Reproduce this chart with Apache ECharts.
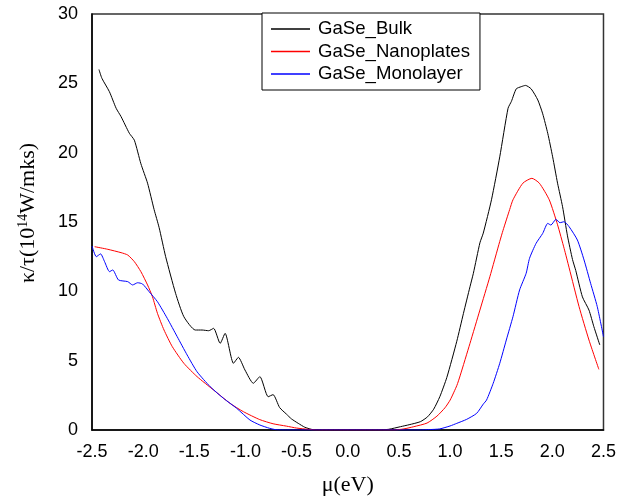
<!DOCTYPE html>
<html>
<head>
<meta charset="utf-8">
<script src="https://cdn.jsdelivr.net/npm/echarts@6/dist/echarts.min.js"></script>
<style>html,body{margin:0;padding:0;background:#fff}#c{width:619px;height:501px}</style>
</head>
<body>
<div id="c"></div>
<script>
var seriesNames = ['GaSe_Bulk', 'GaSe_Nanoplates', 'GaSe_Monolayer'];
var seriesColors = ['#000000', '#ff0000', '#0000ff'];
var xTicks = [-2.5, -2.0, -1.5, -1.0, -0.5, 0.0, 0.5, 1.0, 1.5, 2.0, 2.5];
var yTicks = [0, 5, 10, 15, 20, 25, 30];

var bulkX = [-2.432,-2.403,-2.33,-2.264,-2.216,-2.135,-2.086,-2.022,-1.957,-1.893,-1.844,-1.78,-1.683,-1.602,-1.49,-1.424,-1.36,-1.311,-1.247,-1.199,-1.117,-1.069,-1.005,-0.923,-0.859,-0.778,-0.73,-0.666,-0.6,-0.55,-0.484,-0.42,-0.356,-0.3,0.3,0.4,0.516,0.6,0.71,0.78,0.84,0.9,0.969,1.066,1.131,1.195,1.228,1.292,1.325,1.405,1.486,1.567,1.6,1.647,1.696,1.738,1.793,1.858,1.906,1.955,2.003,2.051,2.1,2.148,2.197,2.229,2.294,2.358,2.406,2.464];
var bulkY = [26.0,25.36,24.4,23.2,22.6,21.4,20.9,19.2,17.8,15.9,14.6,12.5,9.86,8.17,7.21,7.21,7.16,7.33,6.25,6.97,4.81,5.24,4.33,3.37,3.85,2.4,2.55,1.62,1.15,0.8,0.48,0.2,0.05,0.0,0.0,0.05,0.24,0.38,0.6,0.95,1.5,2.4,3.8,6.4,8.41,10.33,11.3,13.5,14.2,16.6,19.7,23.2,23.7,24.6,24.76,24.85,24.6,23.8,22.8,21.4,19.7,17.8,16.1,14.0,12.3,11.5,9.6,8.65,7.45,6.13];

var nanoX = [-2.474,-2.345,-2.216,-2.151,-2.086,-2.022,-1.957,-1.909,-1.86,-1.796,-1.715,-1.602,-1.473,-1.311,-1.15,-1.02,-0.86,-0.73,-0.6,-0.5,-0.388,-0.3,0.45,0.55,0.646,0.775,0.872,0.95,1.001,1.066,1.098,1.195,1.292,1.389,1.486,1.518,1.583,1.615,1.712,1.8,1.873,1.97,2.051,2.115,2.164,2.261,2.358,2.455];
var nanoY = [13.22,13.03,12.79,12.62,12.14,11.42,10.46,9.61,8.41,7.21,6.01,4.81,3.85,2.88,1.92,1.32,0.75,0.45,0.28,0.14,0.05,0.0,0.0,0.08,0.24,0.5,1.0,1.6,2.16,3.2,3.9,6.25,8.65,11.05,13.6,14.4,15.9,16.6,17.8,18.15,17.8,16.6,14.8,13.1,11.7,8.9,6.49,4.37];

var monoX = [-2.5,-2.458,-2.416,-2.377,-2.329,-2.297,-2.241,-2.151,-2.103,-2.054,-2.006,-1.941,-1.86,-1.764,-1.667,-1.57,-1.473,-1.344,-1.214,-1.085,-0.956,-0.859,-0.763,-0.7,-0.6,0.7,0.8,0.9,1.0,1.066,1.163,1.26,1.325,1.357,1.422,1.486,1.55,1.615,1.68,1.744,1.777,1.841,1.906,1.955,1.986,2.035,2.074,2.115,2.164,2.245,2.31,2.374,2.439,2.5];
var monoY = [13.27,12.5,12.7,12.14,11.42,11.54,10.82,10.7,10.46,10.62,10.53,9.97,9.25,8.05,6.73,5.41,4.2,3.12,2.28,1.56,0.72,0.36,0.12,0.02,0.0,0.0,0.03,0.08,0.29,0.48,0.77,1.2,1.87,2.16,3.37,4.81,6.49,8.17,10.1,11.3,12.38,13.46,14.18,14.9,14.78,15.19,14.95,15.02,14.66,13.7,12.26,10.58,8.9,6.73];

function pairs(xs, ys) { return xs.map(function (x, i) { return [x, ys[i]]; }); }

var chart = echarts.init(document.getElementById('c'), null, {renderer: 'canvas'});
var sansFont = '"Liberation Sans", Arial, sans-serif';
var serifFont = '"Liberation Serif", "Times New Roman", serif';
function mkSeries(name, xs, ys, color) {
  return {
    name: name, type: 'line', data: pairs(xs, ys), symbol: 'none', showSymbol: false,
    smooth: 0.2, color: color, lineStyle: {color: color, width: 1}, itemStyle: {color: color},
    animation: false
  };
}
chart.setOption({
  animation: false,
  grid: {left: 92, right: 11, top: 14, bottom: 71, show: true, borderColor: '#333', borderWidth: 1.5, backgroundColor: 'transparent'},
  legend: {
    left: 262, top: 13, orient: 'vertical',
    data: seriesNames.map(function (n, i) { return {name: n, icon: 'rect', itemStyle: {color: seriesColors[i]}}; }),
    backgroundColor: '#fff', borderColor: '#000', borderWidth: 1,
    padding: [6, 10, 6, 9], itemGap: 2.5, itemWidth: 39, itemHeight: 1.5,
    textStyle: {fontFamily: sansFont, fontSize: 18.6, color: '#000', lineHeight: 20, padding: [0, 0, 0, 3]}
  },
  graphic: [{
    type: 'text', x: 28, y: 213, rotation: Math.PI / 2,
    style: {
      text: '{a|κ/τ(10}{s|14}{a|W/mks)}', align: 'center', verticalAlign: 'middle',
      rich: {
        a: {fontFamily: serifFont, fontSize: 22, fill: '#000', color: '#000'},
        s: {fontFamily: serifFont, fontSize: 14, fill: '#000', color: '#000', padding: [0, 0, 10, 0]}
      }
    }
  }],
  xAxis: {
    type: 'value', min: xTicks[0], max: xTicks[xTicks.length - 1], interval: 0.5,
    name: 'μ(eV)', nameLocation: 'middle', nameGap: 44,
    nameTextStyle: {fontFamily: serifFont, fontSize: 22, color: '#000'},
    axisLine: {show: true, onZero: false, lineStyle: {color: '#000', width: 1.5}},
    axisTick: {show: false}, splitLine: {show: false},
    axisLabel: {fontFamily: sansFont, fontSize: 18, color: '#000', margin: 13,
      formatter: function (v) { return v.toFixed(1); }}
  },
  yAxis: {
    type: 'value', min: yTicks[0], max: yTicks[yTicks.length - 1], interval: 5,
    axisLine: {show: true, onZero: false, lineStyle: {color: '#000', width: 1.5}},
    axisTick: {show: false}, splitLine: {show: false},
    axisLabel: {fontFamily: sansFont, fontSize: 18, color: '#000', margin: 14}
  },
  series: [
    mkSeries(seriesNames[0], bulkX, bulkY, seriesColors[0]),
    mkSeries(seriesNames[1], nanoX, nanoY, seriesColors[1]),
    mkSeries(seriesNames[2], monoX, monoY, seriesColors[2])
  ]
});
</script>
</body>
</html>
